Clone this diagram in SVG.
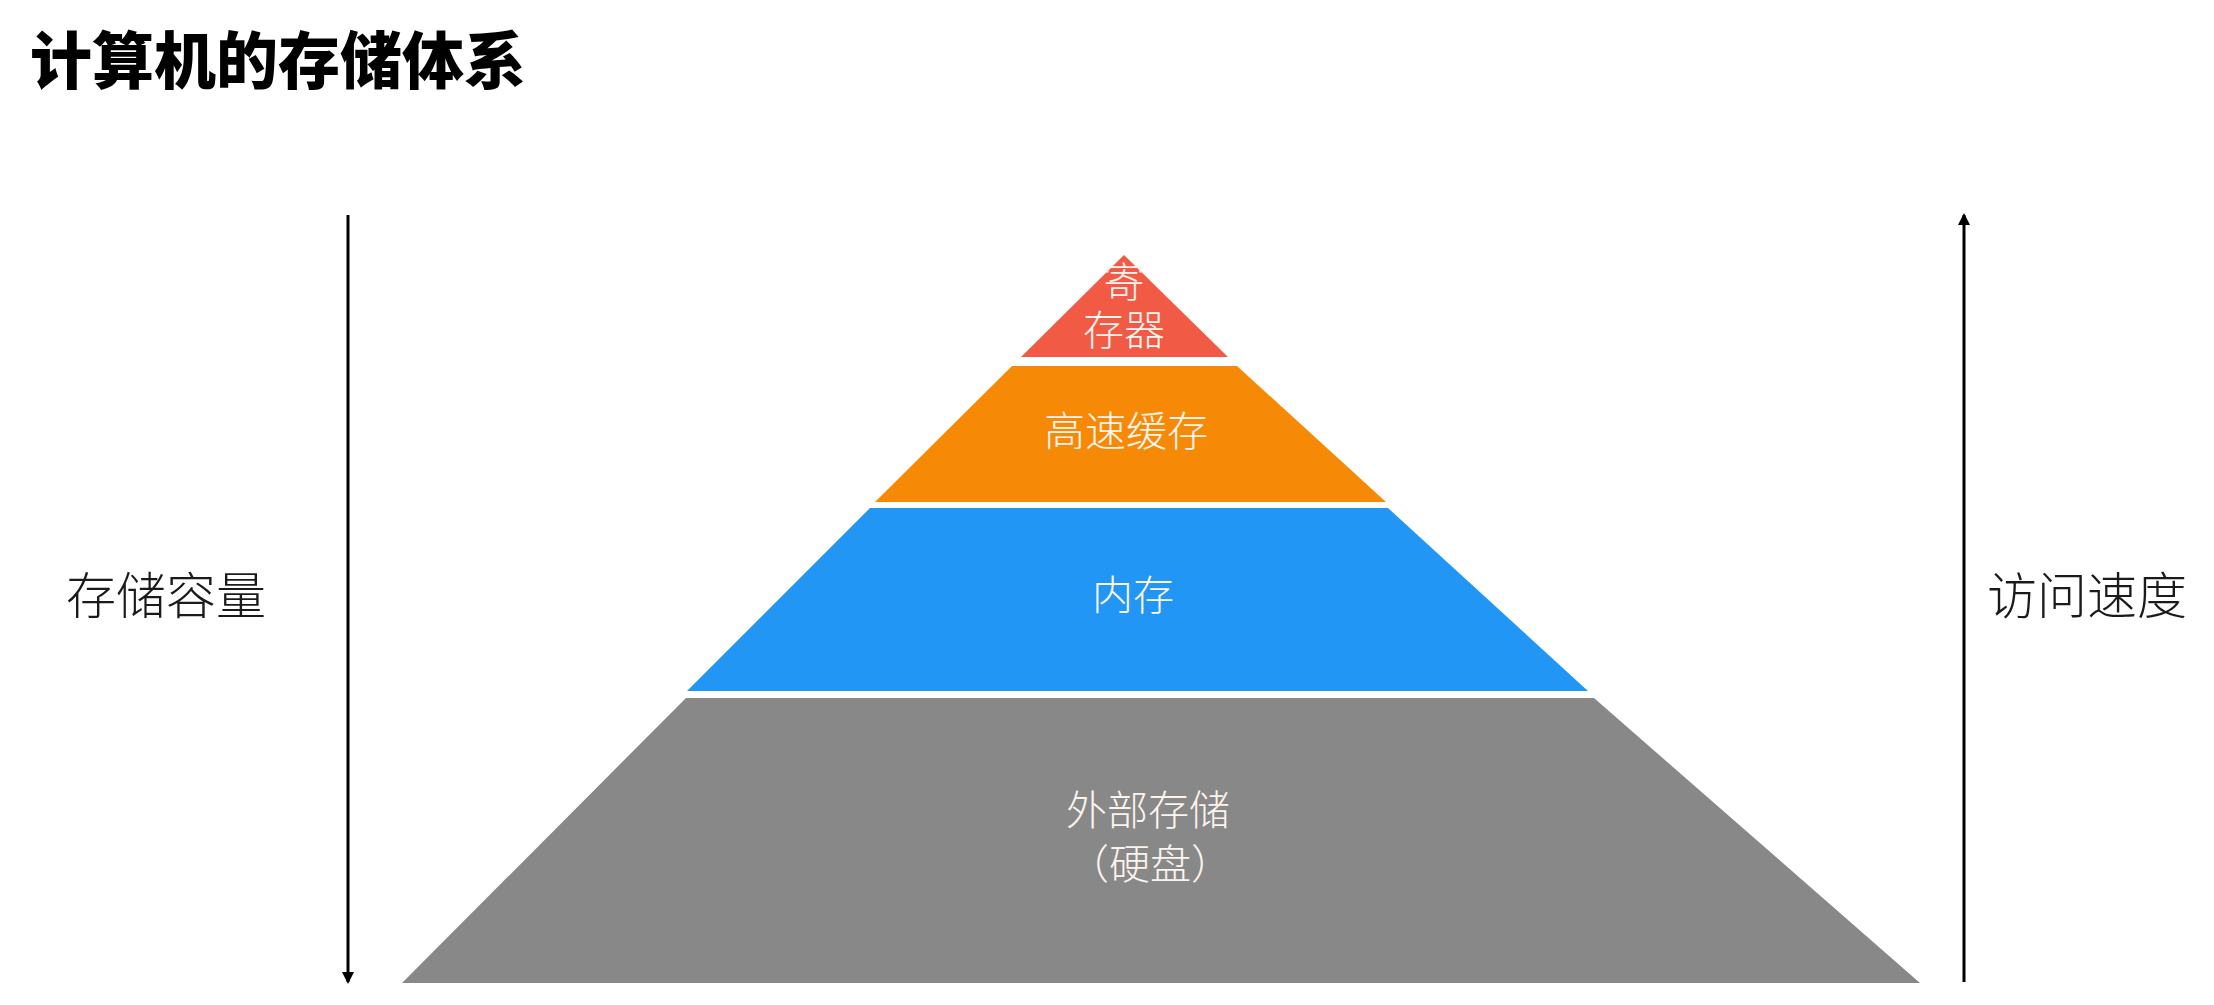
<svg xmlns="http://www.w3.org/2000/svg" width="2214" height="1005" viewBox="0 0 2214 1005">
<style>
.title{font-family:"Noto Sans CJK SC","Noto Sans",sans-serif;font-weight:900;font-size:62px;fill:#000}
.side{font-family:"Noto Sans CJK SC","Noto Sans",sans-serif;font-weight:300;font-size:50px;fill:#1a1a1a}
.lbl{font-family:"Noto Sans CJK SC","Noto Sans",sans-serif;font-weight:300;font-size:41px;fill:#fbf4ee;text-anchor:middle}
.axis{stroke:#000;stroke-width:3;fill:none}
</style>
<defs>
<marker id="ah" markerWidth="12" markerHeight="12" refX="10" refY="6" orient="auto" markerUnits="userSpaceOnUse">
<path d="M0,0 L12,6 L0,12 z" fill="#000"/>
</marker>
</defs>
<rect width="2214" height="1005" fill="#fff"/>
<text class="title" x="30" y="84">计算机的存储体系</text>
<g id="connectors">
<line class="axis" x1="348" y1="215" x2="348" y2="982" marker-end="url(#ah)"/>
<line class="axis" x1="1964" y1="982" x2="1964" y2="215" marker-end="url(#ah)"/>
</g>
<g id="label-capacity"><text class="side" x="66" y="614">存储容量</text></g>
<g id="label-speed"><text class="side" x="1987" y="614">访问速度</text></g>
<g id="register">
<polygon points="1124,255 1228,357 1021,357" fill="#F15A45"/>
<text class="lbl" font-size="29"><tspan x="1124" y="297">寄</tspan><tspan x="1124" y="345">存器</tspan></text>
</g>
<g id="cache">
<polygon points="1012,366 1237,366 1386,502 875,502" fill="#F68A07"/>
<text class="lbl" x="1126" y="446">高速缓存</text>
</g>
<g id="memory">
<polygon points="870,508 1388,508 1588,691 687,691" fill="#2196F5"/>
<text class="lbl" x="1133" y="610">内存</text>
</g>
<g id="disk">
<polygon points="686,698 1594,698 1920,983 402,983" fill="#888888"/>
<text class="lbl" x="1148" y="825" font-size="37">外部存储</text>
<text class="lbl" x="1150" y="879" font-size="37">（硬盘）</text>
</g>
</svg>
